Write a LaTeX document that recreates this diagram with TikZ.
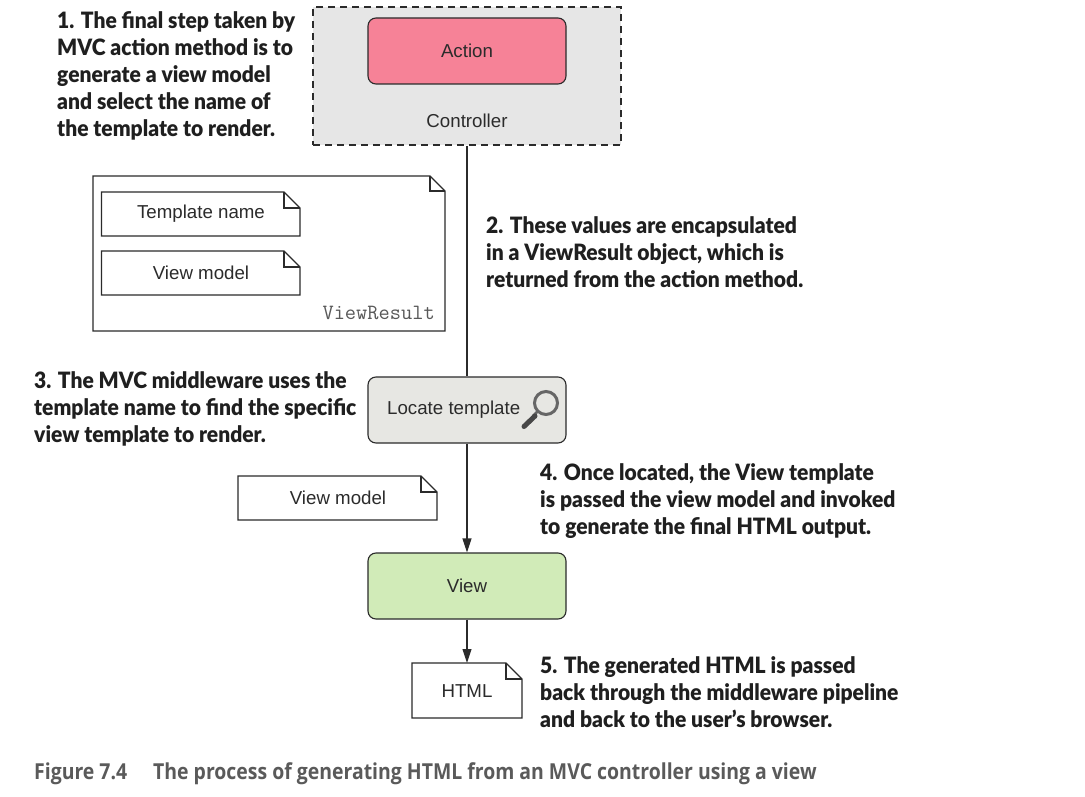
\documentclass[tikz,border=0pt]{standalone}
\usepackage{fontspec}
\setmainfont{Liberation Sans}
\newfontfamily\annfont[FakeStretch=0.935]{Lato Black}
\newfontfamily\capfont[FakeStretch=0.883]{Open Sans Bold}
\usetikzlibrary{arrows.meta}
\definecolor{ink}{HTML}{2B2B2B}
\definecolor{ctrlfill}{HTML}{E6E6E6}
\definecolor{actionfill}{HTML}{F68297}
\definecolor{locatefill}{HTML}{E7E7E3}
\definecolor{viewfill}{HTML}{D1EBB8}
\definecolor{capcolor}{HTML}{5A5A5A}
\tikzset{
  x=1pt,y=-1pt,
  lbl/.style={font=\fontsize{18.7}{21}\selectfont,text=ink,inner sep=0pt,text height=13pt,text depth=0pt},
  ann/.style={font=\annfont\fontsize{22.5}{27}\selectfont,text=black!88,align=left,anchor=west,inner sep=0pt},
  round box/.style={draw=ink,line width=1.1pt,rounded corners=8pt,inner sep=0pt,minimum width=198pt,minimum height=66pt,lbl},
  conn/.style={draw=ink,line width=1.1pt},
  arrow conn/.style={conn,-{Triangle[length=14pt,width=9pt]}},
  notedraw/.style={draw=ink,line width=1.1pt,fill=white,line join=miter},
}
% \notebox{name}{x0}{y0}{x1}{y1}{fold}
\newcommand{\notebox}[6]{%
  \coordinate (#1-tl) at (#2,#3);
  \coordinate (#1-br) at (#4,#5);
  \path[notedraw] (#2,#3) -- ({#4-#6},#3) -- (#4,{#3+#6}) -- (#4,#5) -- (#2,#5) -- cycle;
  \draw[notedraw,fill=none] ({#4-#6},#3) -- ({#4-#6},{#3+#6}) -- (#4,{#3+#6});
}
\begin{document}
\begin{tikzpicture}
\useasboundingbox (0,0) rectangle (1085,797);
\fill[white] (0,0) rectangle (1085,797);

\node[draw=ink,dash pattern=on 7pt off 5pt,line width=1.1pt,fill=ctrlfill,minimum width=308pt,minimum height=138pt,inner sep=0pt] (controller) at (467,76) {};
\node[lbl] (controllerlabel) at (467,121.5) {Controller};
\node[round box,fill=actionfill] (action) at (467,51) {Action};
\node[round box,fill=locatefill] (locate) at (467,410) {};
\node[lbl,anchor=west] (locatelabel) at (387,408) {Locate template};
\node[round box,fill=viewfill] (view) at (467,586) {View};

% magnifier
\draw[line width=3pt,draw=black!60] (546,403) circle (11.5pt);
\draw[line width=2.5pt,draw=black!60] (538,411) -- (533,416);
\draw[line width=5pt,line cap=round,draw=black!72] (535,416) -- (524,426.5);

% ViewResult
\notebox{vr}{93}{176}{445}{331}{15}
\node[font=\ttfamily\fontsize{21.8}{24}\selectfont,text=black!65,anchor=east,inner sep=0pt] (vrlabel) at (435,313) {ViewResult};
\notebox{tn}{101.5}{192}{300}{236}{16}
\node[lbl] (tnlabel) at (201,212) {Template name};
\notebox{vm}{101.5}{251}{300}{295}{16}
\node[lbl] (vmlabel) at (201,273) {View model};
\notebox{vmb}{238}{476}{437}{520}{16}
\node[lbl] (vmblabel) at (338,498) {View model};
\notebox{html}{412}{663}{522}{718}{16}
\node[lbl] (htmllabel) at (467,690.5) {HTML};
\coordinate (htmltop) at (467,663);

\draw[conn] (controller.south) -- (locate.north);
\draw[arrow conn] (locate.south) -- (view.north);
\draw[arrow conn] (view.south) -- (htmltop);

% annotations
\node[ann] (a1) at (57,76) {1. The final step taken by\\MVC action method is to\\generate a view model\\and select the name of\\the template to render.};
\node[ann] (a2) at (486,252) {2. These values are encapsulated\\in a ViewResult object, which is\\returned from the action method.};
\node[ann] (a3) at (34,409) {3. The MVC middleware uses the\\template name to find the specific\\view template to render.};
\node[ann] (a4) at (540,501) {4. Once located, the View template\\is passed the view model and invoked\\to generate the final HTML output.};
\node[ann] (a5) at (540,692) {5. The generated HTML is passed\\back through the middleware pipeline\\and back to the user’s browser.};

\node[font=\capfont\fontsize{22}{24}\selectfont,text=capcolor,anchor=west,inner sep=0pt] (caption) at (34,774) {Figure 7.4\hspace{26pt}The process of generating HTML from an MVC controller using a view};
\end{tikzpicture}
\end{document}
